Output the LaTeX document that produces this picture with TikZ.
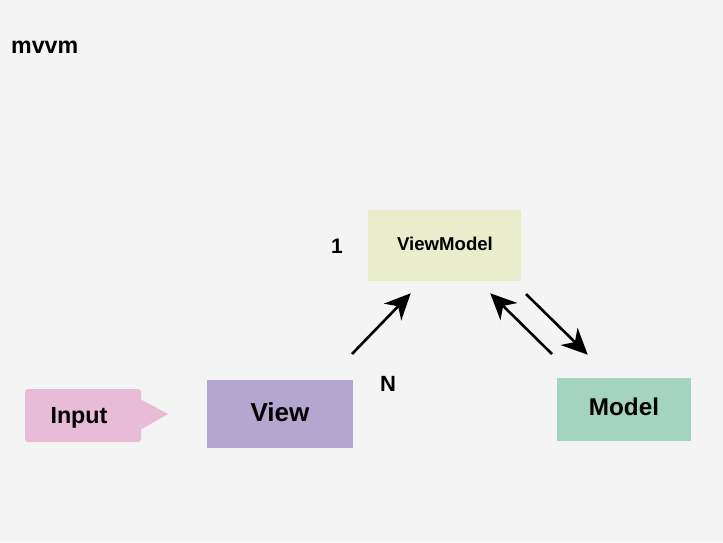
\documentclass[tikz,border=0pt]{standalone}
\usepackage{fontspec}
\setmainfont{Liberation Sans}
\usetikzlibrary{arrows.meta}
\definecolor{bg}{HTML}{F4F4F4}
\definecolor{vmcol}{HTML}{E9EDCB}
\definecolor{viewcol}{HTML}{B3A7CF}
\definecolor{modelcol}{HTML}{A4D4BF}
\definecolor{inputcol}{HTML}{E8BBD6}
\tikzset{
  box/.style={draw=none, inner sep=0pt, anchor=north west},
  lbl/.style={font=\bfseries, inner sep=0pt, anchor=base},
  conn/.style={line width=2.6pt, -{Stealth[length=26pt,width=24pt,inset=8pt]}, shorten >=-1pt}
}
\begin{document}
\begin{tikzpicture}[x=1pt,y=-1pt]
\fill[bg] (0,0) rectangle (723,542);
\useasboundingbox (0,0) rectangle (723,542);
\node[lbl, font=\fontsize{23.2}{26}\selectfont\bfseries, anchor=base west] (title) at (11,53) {mvvm};
% ViewModel
\node[box, fill=vmcol, minimum width=153pt, minimum height=71pt] (vm) at (368,210) {};
\node[lbl, font=\fontsize{18.6}{22}\selectfont\bfseries] (vmt) at (445,250) {ViewModel};
\node[lbl, font=\fontsize{21}{24}\selectfont\bfseries] (one) at (337,253) {1};
% View
\node[box, fill=viewcol, minimum width=146pt, minimum height=68pt] (view) at (207,380) {};
\node[lbl, font=\fontsize{26}{30}\selectfont\bfseries] (viewt) at (280,421) {View};
% Model
\node[box, fill=modelcol, minimum width=134pt, minimum height=63pt] (model) at (557,378) {};
\node[lbl, font=\fontsize{24.3}{28}\selectfont\bfseries] (modelt) at (624,415) {Model};
% Input
\fill[inputcol, rounded corners=3pt] (25,389) rectangle (141,442);
\fill[inputcol] (140,399) -- (168,414) -- (140,430) -- cycle;
\node[lbl, font=\fontsize{23.3}{26}\selectfont\bfseries] (input) at (79,423) {Input};
\node[lbl, font=\fontsize{22}{26}\selectfont\bfseries] (n) at (388,391) {N};
% connectors
\coordinate (a1s) at (352,354); \coordinate (a1e) at (410,294);
\coordinate (a2s) at (552,354); \coordinate (a2e) at (491,294);
\coordinate (a3s) at (526,294); \coordinate (a3e) at (587,354);
\draw[conn] (a1s) -- (a1e);
\draw[conn] (a2s) -- (a2e);
\draw[conn] (a3s) -- (a3e);
\end{tikzpicture}
\end{document}
